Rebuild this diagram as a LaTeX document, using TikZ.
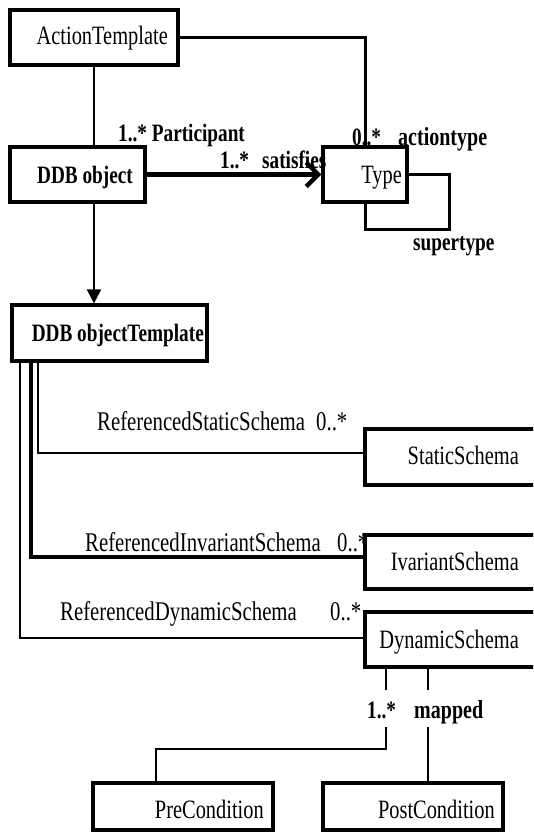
\documentclass[tikz,border=0pt]{standalone}
\usepackage{fontspec}
\setmainfont{Liberation Serif}[FakeStretch=0.77]
\usetikzlibrary{arrows.meta}
\begin{document}
\begin{tikzpicture}[x=1pt,y=-1pt,
  box/.style={draw, line width=3.2pt, inner sep=0pt},
  txt/.style={inner sep=0pt, font=\fontsize{26.5}{30}\selectfont},
  btxt/.style={inner sep=0pt, font=\bfseries\fontsize{25}{28}\selectfont},
  lab/.style={inner sep=0pt, font=\bfseries\fontsize{25}{28}\selectfont},
  rlab/.style={inner sep=0pt, font=\fontsize{27}{30}\selectfont},
  conn/.style={line width=2.4pt}]
\clip (0,0) rectangle (533,832);
\useasboundingbox (0,0) rectangle (533,832);

% boxes
\node[box, minimum width=168pt, minimum height=55pt] (AT) at (94,37.5) {};
\node[box, minimum width=135pt, minimum height=55pt] (DO) at (77.5,174.5) {};
\node[box, minimum width=84pt, minimum height=55pt] (TY) at (365,174.5) {};
\node[box, minimum width=195pt, minimum height=56pt] (DOT) at (109.5,333) {};
\node[box, minimum width=195pt, minimum height=56pt] (SS) at (462.5,457) {};
\node[box, minimum width=195pt, minimum height=54pt] (IS) at (462.5,562) {};
\node[box, minimum width=195pt, minimum height=55pt] (DS) at (462.5,639.5) {};
\node[box, minimum width=180pt, minimum height=47pt] (PRE) at (183,806.5) {};
\node[box, minimum width=180pt, minimum height=47pt] (POST) at (413,806.5) {};

% box texts
\node[txt, anchor=base east] (ATt) at (168,45) {ActionTemplate};
\node[btxt, anchor=base east] (DOt) at (133,183) {DDB object};
\node[txt, anchor=base east] (TYt) at (402,183) {Type};
\node[btxt, anchor=base east] (DOTt) at (204,341) {DDB objectTemplate};
\node[txt, anchor=base east] (SSt) at (519,464) {StaticSchema};
\node[txt, anchor=base east] (ISt) at (519,570) {IvariantSchema};
\node[txt, anchor=base east] (DSt) at (519,648) {DynamicSchema};
\node[txt, anchor=base east] (PREt) at (264,818) {PreCondition};
\node[txt, anchor=base east] (POSTt) at (495,818) {PostCondition};

% connectors
\draw[conn, line width=3pt] (AT.east) -| (TY.north);
\draw[conn] (AT.south) -- (AT.south |- DO.north);
\draw[line width=4.5pt, -{Straight Barb[length=12pt,width=24pt]}] (DO.east) -- (TY.west);
\coordinate (LP) at (449,229);
\draw[conn, line width=3pt] (TY.east) -| (LP) -| (TY.south);
\draw[line width=2pt, -{Triangle[length=14pt,width=14pt]}] ([xshift=16.5pt]DO.south) -- ([xshift=-15.5pt]DOT.north);
\draw[conn] ([xshift=-71.5pt]DOT.south) |- ([yshift=4pt]SS.west);
\draw[line width=3.2pt] ([xshift=-78.5pt]DOT.south) |- ([yshift=5pt]IS.west);
\draw[conn] ([xshift=-89.5pt]DOT.south) |- ([yshift=1.5pt]DS.west);

\coordinate (G1) at (386,690);
\coordinate (G2) at (386,727);
\coordinate (B1) at (386,749);
\draw[conn] (DS.south -| G1) -- (G1);
\draw[conn] (G2) -- (B1) -| ([xshift=-27pt]PRE.north);
\coordinate (H1) at (428,690);
\coordinate (H2) at (428,727);
\draw[conn] (DS.south -| H1) -- (H1);
\draw[conn] (H2) -- (POST.north -| H2);

% labels
\node[lab, anchor=base west] (L1) at (118,141) {1..* Participant};
\node[lab, anchor=base west] (L2) at (352,145) {0..*};
\node[lab, anchor=base west, font=\bfseries\fontsize{26}{28}\selectfont] (L3) at (398,145) {actiontype};
\node[lab, anchor=base west] (L4) at (220,168) {1..*};
\node[lab, anchor=base west] (L5) at (262,168) {satisfies};
\node[lab, anchor=base west] (L6) at (413,250) {supertype};
\node[rlab, anchor=base west] (L7) at (97,430) {ReferencedStaticSchema};
\node[rlab, anchor=base west] (L8) at (316,430) {0..*};
\node[rlab, anchor=base west] (L9) at (85,551) {ReferencedInvariantSchema};
\node[rlab, anchor=base west] (L10) at (337,551) {0..*};
\node[rlab, anchor=base west] (L11) at (60,620) {ReferencedDynamicSchema};
\node[rlab, anchor=base west] (L12) at (330,620) {0..*};
\node[lab, anchor=base west] (L13) at (367,718) {1..*};
\node[lab, anchor=base west, font=\bfseries\fontsize{26}{28}\selectfont] (L14) at (414,718) {mapped};
\end{tikzpicture}
\end{document}
